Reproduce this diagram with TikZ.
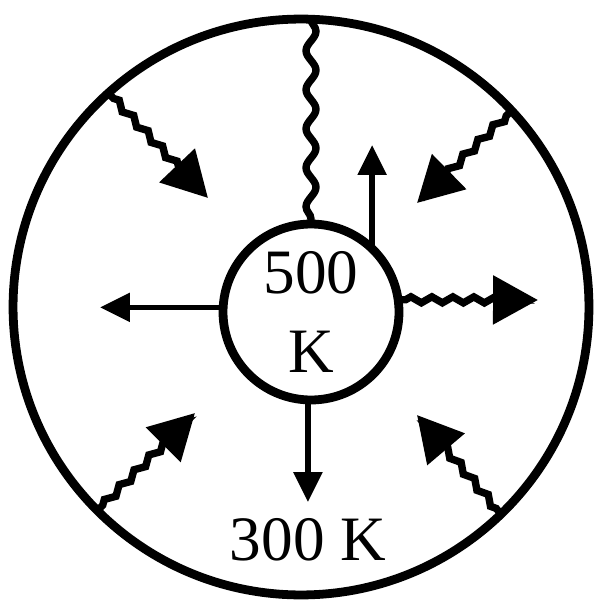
\documentclass[tikz,border=0pt]{standalone}
\usepackage{fontspec}
\setmainfont{Liberation Serif}
\usetikzlibrary{arrows.meta,decorations.pathmorphing}
\begin{document}
\begin{tikzpicture}[x=0.02cm,y=-0.02cm,
  wall/.style={circle,draw,line width=5pt,inner sep=0pt,outer sep=0pt},
  ray/.style={line width=3.2pt,-{Triangle[length=0.6cm,width=0.56cm]}},
  jag/.style={line width=4.2pt,-{Triangle[length=0.9cm,width=0.95cm]},decorate,
    decoration={zigzag,segment length=0.42cm,amplitude=0.06cm,pre length=0.15cm,post length=0.3cm}},
  wave/.style={line width=4.2pt,decorate,decoration={snake,segment length=0.78cm,amplitude=0.1cm}},
  big/.style={font=\fontsize{36}{45}\selectfont}]
\useasboundingbox (0,0) rectangle (599,608);
\node[wall,minimum size=11.52cm] (enclosure) at (301,307) {};
\node[wall,minimum size=3.52cm,align=center,big] (body) at (311,312) {500\\K};
\node[big] (ambient) at (308,540) {300 K};
% free ends of the arrows
\coordinate (tipNW) at (208,198);
\coordinate (tipNE) at (417,203);
\coordinate (tipE) at (538,300);
\coordinate (tipSW) at (195,413);
\coordinate (tipSE) at (417,415);
\coordinate (tipUp) at (375,145);
\coordinate (tipW) at (100,308);
\coordinate (tipS) at (306,502);
% radiation in from the walls
\draw[jag] (enclosure.132) -- (tipNW);
\draw[jag] (enclosure.43) -- (tipNE);
\draw[jag] (enclosure.225) -- (tipSW);
\draw[jag] (enclosure.314) -- (tipSE);
\draw[jag] (body.8) -- (tipE);
\draw[wave] (body.north |- enclosure.north) -- (body.north);
% plain arrows out of the body
\draw[ray] (body.46) -- (body.46 |- tipUp);
\draw[ray] (body.177) -- (body.177 -| tipW);
\draw[ray] (body.268) -- (body.268 |- tipS);
\end{tikzpicture}
\end{document}
